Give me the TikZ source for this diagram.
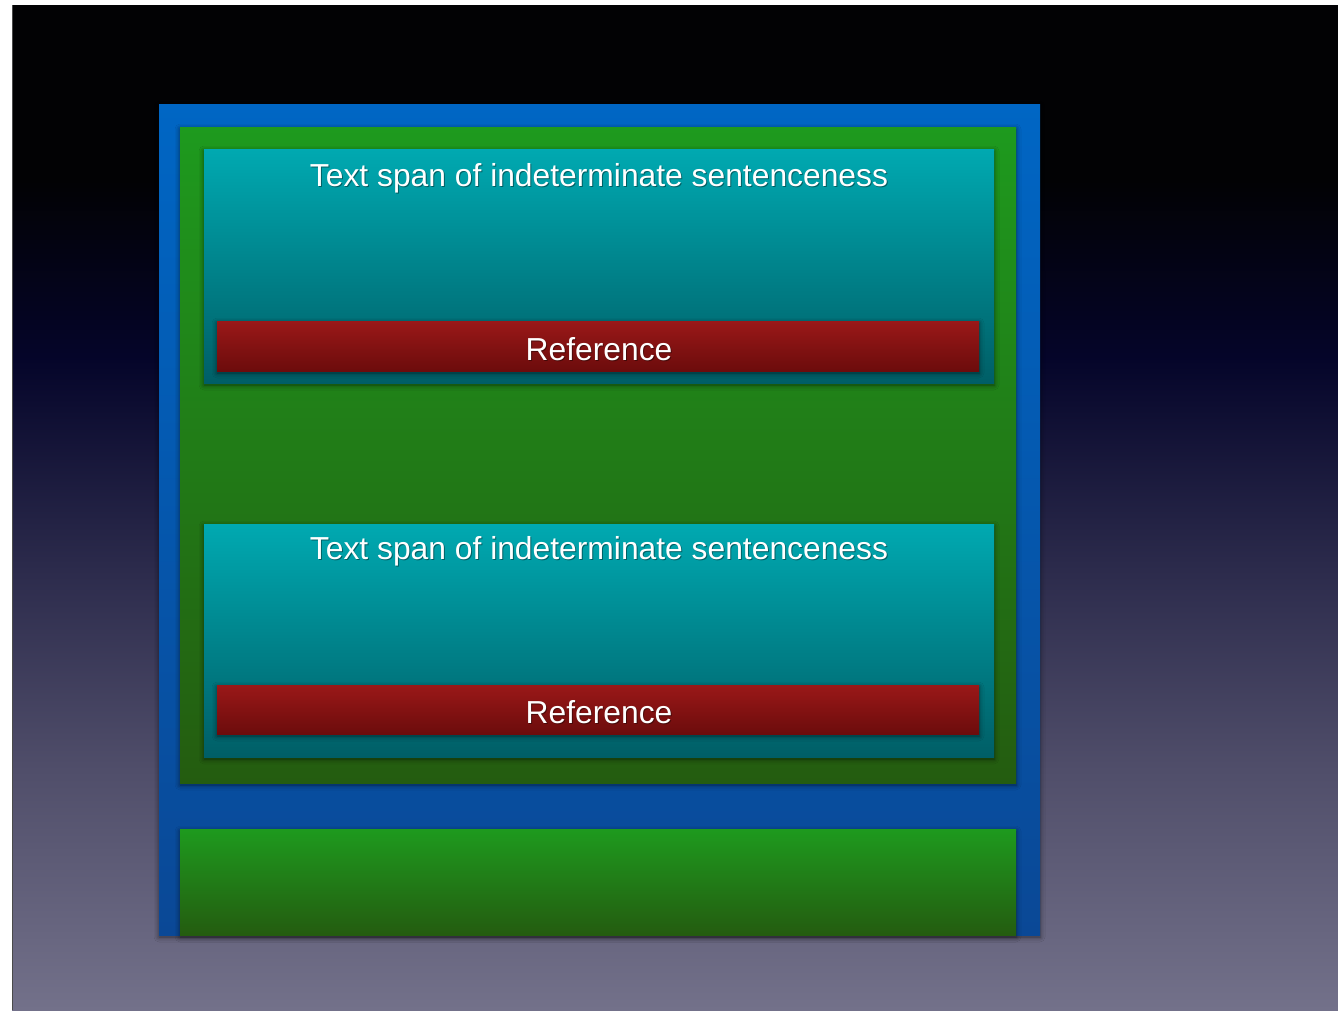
\documentclass[tikz,border=0pt]{standalone}
\usepackage{fontspec}
\setmainfont{Liberation Sans}
\usetikzlibrary{shadows.blur}

\definecolor{bgA}{HTML}{020204}
\definecolor{bgC}{HTML}{05052A}
\definecolor{bgD}{HTML}{2C2B4C}
\definecolor{bgE}{HTML}{504E6A}
\definecolor{bgF}{HTML}{73718A}
\definecolor{blueT}{HTML}{0066C4}
\definecolor{blueB}{HTML}{0A4896}
\definecolor{greenT}{HTML}{1E9A1E}
\definecolor{greenB}{HTML}{245C10}
\definecolor{tealT}{HTML}{00A9B1}
\definecolor{tealB}{HTML}{005E66}
\definecolor{redT}{HTML}{9A1818}
\definecolor{redB}{HTML}{6C0C0C}
\definecolor{edge}{HTML}{4A4A4A}

\tikzset{
  panel/.style={anchor=north west, inner sep=0pt, outer sep=0pt, draw=none,
    blur shadow={shadow xshift=0pt, shadow yshift=-2pt,
                 shadow blur radius=5pt, shadow opacity=55}},
  bluebox/.style={panel, top color=blueT, bottom color=blueB},
  greenbox/.style={panel, top color=greenT, bottom color=greenB},
  tealbox/.style={panel, top color=tealT, bottom color=tealB},
  redbox/.style={panel, top color=redT, bottom color=redB},
  caption/.style={text=white, font=\fontsize{31.8}{36}\selectfont, inner sep=0pt},
  captionshadow/.style={text=black, opacity=0.4, font=\fontsize{31.8}{36}\selectfont, inner sep=0pt},
}

% one white caption with a soft dark shadow under it
\newcommand{\shadowedlabel}[3]{%
  \node[captionshadow] at ([xshift=1pt,yshift=-1.5pt]#2) {#3};
  \node[caption] (#1) at (#2) {#3};
}

\begin{document}
\begin{tikzpicture}[x=1pt,y=-1pt]
  \useasboundingbox (0,0) rectangle (1338,1010);
  \fill[white] (0,0) rectangle (1338,1010);

  % backdrop: black at the top fading through navy to grey-violet
  \shade[top color=bgA, bottom color=bgA] (12,5) rectangle (1338,180);
  \shade[top color=bgA, bottom color=bgC] (12,180) rectangle (1338,360);
  \shade[top color=bgC, bottom color=bgD] (12,360) rectangle (1338,570);
  \shade[top color=bgD, bottom color=bgE] (12,570) rectangle (1338,770);
  \shade[top color=bgE, bottom color=bgF] (12,770) rectangle (1338,1010);
  \draw[edge, line width=1.2pt] (12.6,5) -- (12.6,1010);

  % outer frame
  \node[bluebox, minimum width=881pt, minimum height=831pt] (frame) at (159,104) {};

  % upper container
  \node[greenbox, minimum width=836pt, minimum height=656pt] (upper) at (180,127) {};

  % first span
  \node[tealbox, minimum width=790pt, minimum height=234pt] (spanA) at (204,149) {};
  \node[redbox, minimum width=762pt, minimum height=50pt] (refA) at (217,321) {};

  % second span
  \node[tealbox, minimum width=790pt, minimum height=233pt] (spanB) at (204,524) {};
  \node[redbox, minimum width=762pt, minimum height=49pt] (refB) at (217,685) {};

  % lower container
  \node[greenbox, minimum width=836pt, minimum height=106pt] (lower) at (180,829) {};

  % captions
  \coordinate (tA) at (599,178);
  \coordinate (rA) at (599,349);
  \coordinate (tB) at (599,551);
  \coordinate (rB) at (599,712);
  \shadowedlabel{textA}{tA}{Text span of indeterminate sentenceness}
  \shadowedlabel{labelA}{rA}{Reference}
  \shadowedlabel{textB}{tB}{Text span of indeterminate sentenceness}
  \shadowedlabel{labelB}{rB}{Reference}
\end{tikzpicture}
\end{document}
